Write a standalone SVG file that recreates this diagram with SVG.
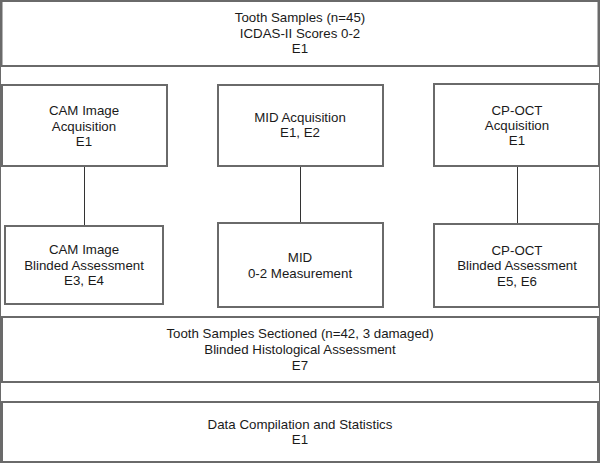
<svg xmlns="http://www.w3.org/2000/svg" width="600" height="463" viewBox="0 0 600 463">
<style>
rect{fill:#fff;stroke:#6a6a6a;stroke-width:2}
text{font-family:"Liberation Sans",Arial,sans-serif;font-size:13.3px;fill:#1a1a1a;text-anchor:middle}
.c line{stroke:#333;stroke-width:1}
</style>
<rect width="600" height="463" fill="#fff" stroke="none"/>
<g class="c" id="connectors">
<line x1="84.5" y1="166" x2="84.5" y2="226"/>
<line x1="300.5" y1="166" x2="300.5" y2="223"/>
<line x1="517.5" y1="166" x2="517.5" y2="224"/>
</g>
<g id="n1"><rect x="1.5" y="1" width="597" height="65"/>
<text x="300" y="22">Tooth Samples (n=45)</text><text x="300" y="38">ICDAS-II Scores 0-2</text><text x="300" y="53">E1</text></g>
<g id="n2"><rect x="2" y="85" width="165" height="81"/>
<text x="84" y="115">CAM Image</text><text x="84" y="131">Acquisition</text><text x="84" y="146">E1</text></g>
<g id="n3"><rect x="218" y="85" width="165" height="81"/>
<text x="300" y="122">MID Acquisition</text><text x="300" y="137">E1, E2</text></g>
<g id="n4"><rect x="434" y="84" width="165" height="82"/>
<text x="517" y="115">CP-OCT</text><text x="517" y="130">Acquisition</text><text x="517" y="145">E1</text></g>
<g id="n5"><rect x="5" y="226" width="158" height="78"/>
<text x="84" y="254">CAM Image</text><text x="84" y="270">Blinded Assessment</text><text x="84" y="285">E3, E4</text></g>
<g id="n6"><rect x="218" y="223" width="165" height="84"/>
<text x="300" y="262">MID</text><text x="300" y="278">0-2 Measurement</text></g>
<g id="n7"><rect x="434" y="224" width="165" height="83"/>
<text x="517" y="255">CP-OCT</text><text x="517" y="270">Blinded Assessment</text><text x="517" y="286">E5, E6</text></g>
<g id="n8"><rect x="2" y="317" width="596" height="65"/>
<text x="300" y="338">Tooth Samples Sectioned (n=42, 3 damaged)</text><text x="300" y="354">Blinded Histological Assessment</text><text x="300" y="370">E7</text></g>
<g id="n9"><rect x="2" y="402" width="596" height="60"/>
<text x="300" y="429">Data Compilation and Statistics</text><text x="300" y="444">E1</text></g>
</svg>
